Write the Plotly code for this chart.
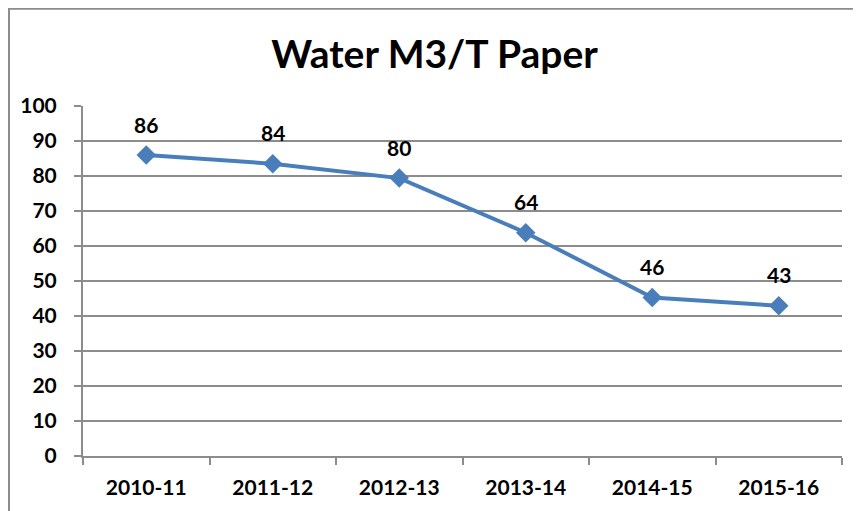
import plotly.graph_objects as go

years = ["2010-11", "2011-12", "2012-13", "2013-14", "2014-15", "2015-16"]
water = [86.0, 83.5, 79.4, 63.8, 45.3, 42.9]
labels = ["86", "84", "80", "64", "46", "43"]

FONT = "Lato"
GRID = "#8c8c8c"
BLUE = "#4a7ebb"

# the page body adds an 8px margin, so the figure is a little smaller than the window


def build_figure():
    fig = go.Figure()
    fig.add_trace(go.Scatter(
        x=years, y=water, mode="lines+markers",
        line=dict(color=BLUE, width=4),
        marker=dict(symbol="diamond", size=15, color=BLUE),
        hoverinfo="skip", showlegend=False,
    ))

    for yr, val, lab in zip(years, water, labels):
        fig.add_annotation(x=yr, y=val, text=lab, showarrow=False, yshift=31,
                           font=dict(family=FONT, size=21, color="black", weight="bold"))

    # outer chart border (top and left visible, rest cut off)
    fig.add_shape(type="rect", xref="paper", yref="paper",
                  x0=-0.0975, x1=1.2, y0=-0.3, y1=1.278,
                  line=dict(color="#8c8c8c", width=2))

    fig.update_layout(
        width=853, height=503,
        margin=dict(l=75, r=19, t=98, b=55),
        paper_bgcolor="white", plot_bgcolor="white",
        title=dict(text="<b>Water M3/T Paper</b>", x=0.5, xanchor="center",
                   y=0.908, yanchor="middle", yref="container",
                   font=dict(family=FONT, size=39, color="black")),
        font=dict(family=FONT, color="black"),
    )
    fig.update_xaxes(
        type="category", range=[-0.5, len(years) - 0.5],
        showgrid=False, showline=True, linecolor=GRID, linewidth=2,
        ticks="outside", tickson="boundaries", ticklen=7, tickcolor=GRID, tickwidth=2,
        ticklabelstandoff=12, automargin=False,
        tickfont=dict(family=FONT, size=21, color="black", weight="bold"),
    )
    fig.update_yaxes(
        range=[0, 100], dtick=10, showgrid=True, gridcolor=GRID, gridwidth=2,
        showline=True, linecolor=GRID, linewidth=2, zeroline=False,
        ticks="outside", ticklen=7, tickcolor=GRID, tickwidth=2,
        ticklabelstandoff=13, automargin=False,
        tickfont=dict(family=FONT, size=21, color="black", weight="bold"),
    )
    return fig


def main():
    fig = build_figure()
    fig.write_html("out.html")


if __name__ == '__main__':
    main()
